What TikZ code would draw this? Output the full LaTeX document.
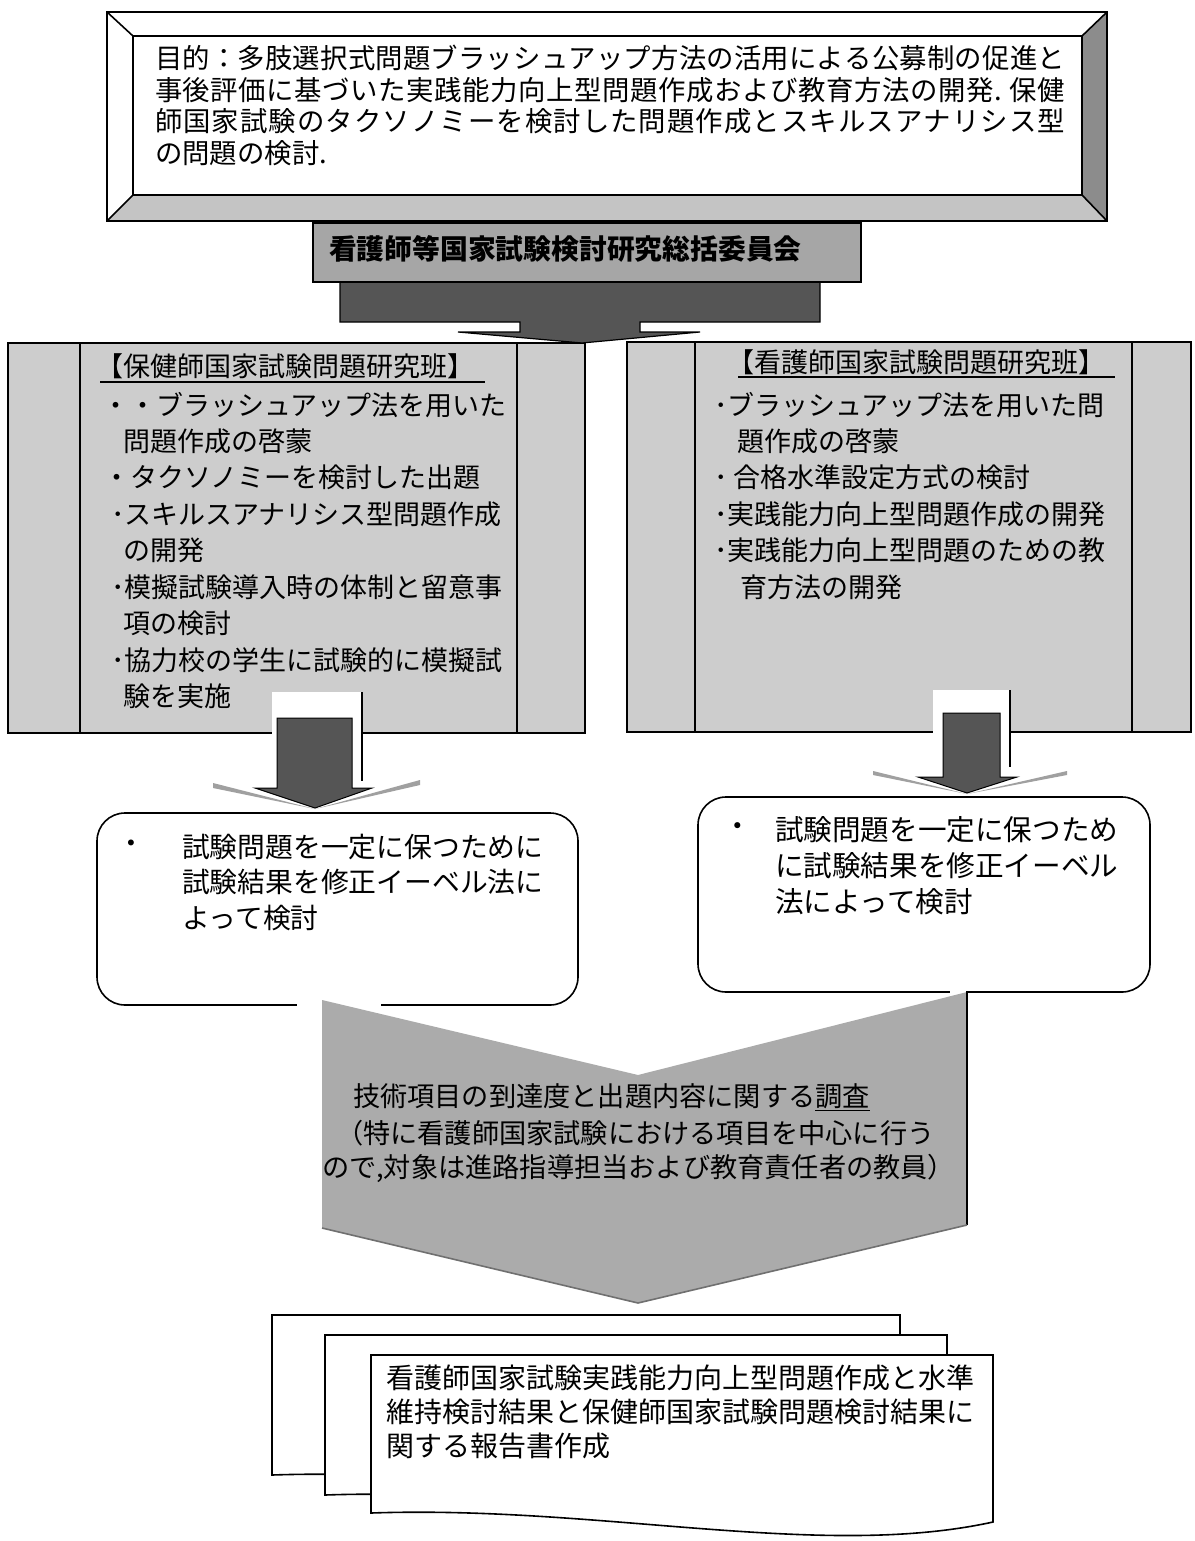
\documentclass[tikz,border=0pt]{standalone}
\usepackage{fontspec}
\setmainfont{Noto Sans CJK JP}
\newcommand\fsz[1]{\fontsize{#1}{#1}\selectfont}
\def\spreadchars#1{\spreadcharsi#1\relax}
\def\spreadcharsi#1{\ifx#1\relax\else#1\hfil\expandafter\spreadcharsi\fi}
\newcommand\justline[2]{\hbox to #1{\spreadchars{#2}\unskip}}
\definecolor{bevdark}{HTML}{8C8C8C}
\definecolor{bevlight}{HTML}{C4C4C4}
\definecolor{bannerg}{HTML}{A6A6A6}
\definecolor{darkarrow}{HTML}{555555}
\definecolor{panelg}{HTML}{CDCDCD}
\definecolor{ghostg}{HTML}{A0A0A0}
\definecolor{chevg}{HTML}{ABABAB}
\definecolor{chevline}{HTML}{707070}
\begin{document}
\begin{tikzpicture}[x=1pt,y=-1pt,line join=miter,
  edge/.style={draw=black,line width=1.6pt},
  t/.style={anchor=west,inner sep=0pt,outer sep=0pt},
  topt/.style={t,font=\fsz{27.4}},
  panelt/.style={t,font=\fsz{27}},
  boxlt/.style={t,font=\fsz{27.8}},
  boxrt/.style={t,font=\fsz{28.6}},
  chevt/.style={t,font=\fsz{27.2}},
  doct/.style={t,font=\fsz{28}}]
\useasboundingbox[fill=white] (0,0) rectangle (1194,1541);

% ---------- top bevel box ----------
\coordinate (oTL) at (107,12);  \coordinate (oTR) at (1107,12);
\coordinate (oBR) at (1107,221);\coordinate (oBL) at (107,221);
\coordinate (iTL) at (133,36);  \coordinate (iTR) at (1082,36);
\coordinate (iBR) at (1082,195);\coordinate (iBL) at (133,195);
\fill[white] (oTL) rectangle (oBR);
\fill[bevdark] (oTR) -- (oBR) -- (iBR) -- (iTR) -- cycle;
\fill[bevlight] (oBL) -- (oBR) -- (iBR) -- (iBL) -- cycle;
\draw[edge] (oTL) rectangle (oBR);
\draw[edge] (iTL) rectangle (iBR);
\draw[edge] (oTL)--(iTL) (oTR)--(iTR) (oBR)--(iBR) (oBL)--(iBL);
\node[topt] (g1) at (155,58)  {\justline{910pt}{目的：多肢選択式問題ブラッシュアップ方法の活用による公募制の促進と}};
\node[topt] (g2) at (155,90)  {\justline{910pt}{事後評価に基づいた実践能力向上型問題作成および教育方法の開発.~保健}};
\node[topt] (g3) at (155,121) {\justline{910pt}{師国家試験のタクソノミーを検討した問題作成とスキルスアナリシス型}};
\node[topt] (g4) at (155,153) {の問題の検討.};

% ---------- panels ----------
\filldraw[fill=panelg,edge] (8,343) rectangle (585,733);
\draw[edge] (80,343)--(80,733) (517,343)--(517,733);
\filldraw[fill=panelg,edge] (627,342) rectangle (1191,732);
\draw[edge] (695,342)--(695,732) (1132,342)--(1132,732);

\node[panelt] (lh) at (96,366) {【保健師国家試験問題研究班】};
\draw[line width=1.3pt] (100,382) -- (485,382);
\node[panelt] (l1) at (102,405) {・・ブラッシュアップ法を用いた};
\node[panelt] (l2) at (123,441) {問題作成の啓蒙};
\node[panelt] (l3) at (103,477) {・タクソノミーを検討した出題};
\node[panelt] (l4) at (111,514) {･スキルスアナリシス型問題作成};
\node[panelt] (l5) at (123,550) {の開発};
\node[panelt] (l6) at (111,587) {･模擬試験導入時の体制と留意事};
\node[panelt] (l7) at (123,623) {項の検討};
\node[panelt] (l8) at (111,660) {･協力校の学生に試験的に模擬試};
\node[panelt] (l9) at (123,696) {験を実施};

\node[panelt] (rh) at (727,362) {【看護師国家試験問題研究班】};
\draw[line width=1.3pt] (738,377) -- (1115,377);
\node[panelt] (r1) at (714,405) {･ブラッシュアップ法を用いた問};
\node[panelt] (r2) at (737,441) {題作成の啓蒙};
\node[panelt] (r3) at (714,477) {･ 合格水準設定方式の検討};
\node[panelt] (r4) at (714,514) {･実践能力向上型問題作成の開発};
\node[panelt] (r5) at (714,550) {･実践能力向上型問題のための教};
\node[panelt] (r6) at (740,587) {育方法の開発};

% ---------- committee banner and big arrow ----------
\filldraw[fill=darkarrow,draw=black,line width=1.2pt]
  (340,281) -- (820,281) -- (820,322) -- (640,322) -- (640,332) -- (700,332)
  -- (582,343) -- (458,332) -- (520,332) -- (520,322) -- (340,322) -- cycle;
\node[draw,line width=1.6pt,fill=bannerg,minimum width=548pt,minimum height=59pt,
      anchor=north west,inner sep=0pt] (comm) at (312,222) {};
\node[t,font=\fsz{27.8}\bfseries] (commtxt) at (329,249) {看護師等国家試験検討研究総括委員会};

% ---------- small arrows ----------
\fill[white] (272,692) rectangle (362,781);
\draw[edge] (362,692) -- (362,781);
\fill[ghostg] (213,783) -- (315,809) -- (213,788) -- cycle;
\fill[ghostg] (420,780) -- (315,809) -- (420,785) -- cycle;
\filldraw[fill=darkarrow,draw=black,line width=1pt]
  (277,718) -- (352,718) -- (352,788) -- (372,788) -- (315,808) -- (255,788) -- (277,788) -- cycle;

\fill[white] (933,690) rectangle (1010,767);
\draw[edge] (1010,690) -- (1010,767);
\fill[ghostg] (873,771) -- (967,794) -- (873,775) -- cycle;
\fill[ghostg] (1067,771) -- (967,794) -- (1067,775) -- cycle;
\filldraw[fill=darkarrow,draw=black,line width=1pt]
  (943,713) -- (1000,713) -- (1000,777) -- (1017,777) -- (967,793) -- (918,777) -- (943,777) -- cycle;

% ---------- rounded boxes ----------
\draw[edge,fill=white,rounded corners=28pt] (97,813) rectangle (578,1005);
\node[boxlt,anchor=center] (lbul) at (131,847) {・};
\node[boxlt] (lb1) at (182,847) {試験問題を一定に保つために};
\node[boxlt] (lb2) at (182,882) {試験結果を修正イーベル法に};
\node[boxlt] (lb3) at (182,918) {よって検討};

\draw[edge,fill=white,rounded corners=28pt] (698,797) rectangle (1150,992);
\node[boxrt,anchor=center] (rbul) at (738,830) {・};
\node[boxrt] (rb1) at (775,830) {試験問題を一定に保つため};
\node[boxrt] (rb2) at (775,866) {に試験結果を修正イーベル};
\node[boxrt] (rb3) at (775,902) {法によって検討};

% ---------- chevron ----------
\draw[white,line width=3pt] (297,1005) -- (381,1005);
\draw[white,line width=3pt] (950,992) -- (966,992);
\fill[chevg] (322,1000) -- (638,1075) -- (967,992) -- (967,1225) -- (638,1303) -- (322,1228) -- cycle;
\draw[edge] (967,992) -- (967,1225);
\draw[chevline,line width=1.6pt] (322,1228) -- (638,1303) -- (967,1225);
\node[chevt] (c1) at (353,1097) {技術項目の到達度と出題内容に関する\underline{調査}};
\node[chevt] (c2) at (336,1133) {（特に看護師国家試験における項目を中心に行う};
\node[chevt] (c3) at (322,1168) {ので,対象は進路指導担当および教育責任者の教員）};

% ---------- document stack ----------
\draw[edge,fill=white] (272,1315) -- (900,1315) -- (900,1484)
  .. controls (727,1522) and (507,1467) .. (272,1475) -- cycle;
\draw[edge,fill=white] (325,1335) -- (947,1335) -- (947,1503)
  .. controls (774,1541) and (554,1487) .. (325,1495) -- cycle;
\draw[edge,fill=white] (371,1355) -- (993,1355) -- (993,1522)
  .. controls (820,1560) and (600,1505) .. (371,1513) -- cycle;
\node[doct] (d1) at (386,1378) {看護師国家試験実践能力向上型問題作成と水準};
\node[doct] (d2) at (386,1412) {維持検討結果と保健師国家試験問題検討結果に};
\node[doct] (d3) at (386,1446) {関する報告書作成};
\end{tikzpicture}
\end{document}
